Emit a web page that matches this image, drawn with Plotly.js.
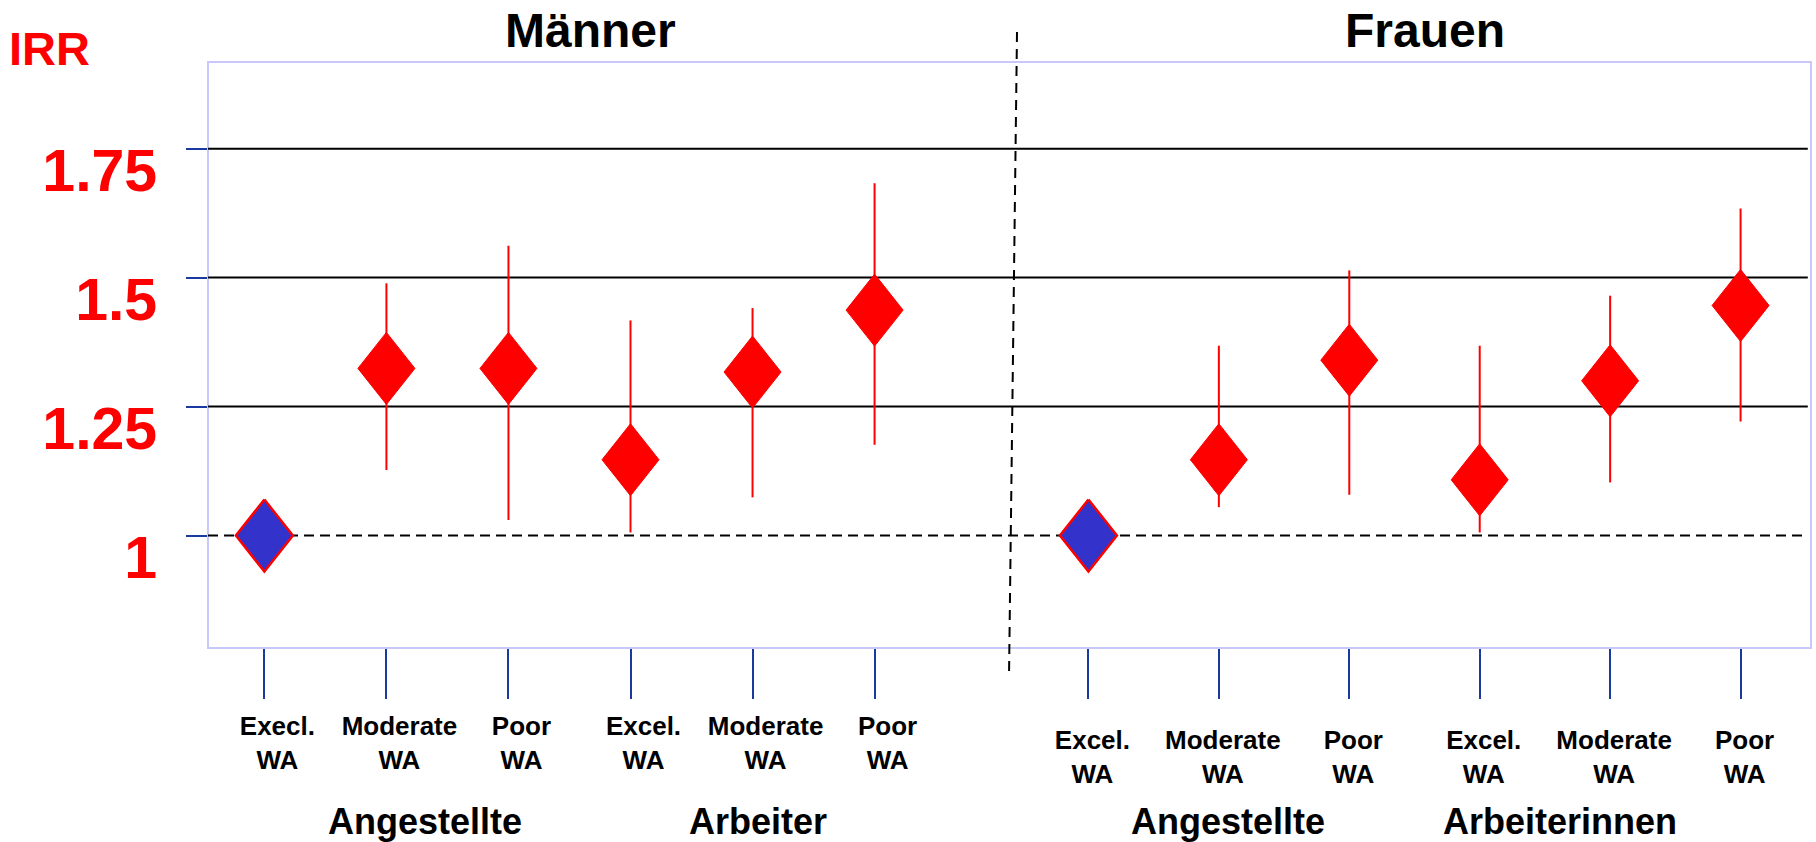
<!DOCTYPE html>
<html>
<head>
<meta charset="utf-8">
<script src="https://cdn.plot.ly/plotly-3.0.1.min.js"></script>
<style>html,body{margin:0;padding:0;background:#fff;}#chart{width:1816px;height:842px;}</style>
</head>
<body>
<div id="chart"></div>
<script>
// ---------- data ----------
const menCategories   = ['Execl.<br>WA', 'Moderate<br>WA', 'Poor<br>WA', 'Excel.<br>WA', 'Moderate<br>WA', 'Poor<br>WA'];
const womenCategories = ['Excel.<br>WA', 'Moderate<br>WA', 'Poor<br>WA', 'Excel.<br>WA', 'Moderate<br>WA', 'Poor<br>WA'];
const menGroups   = ['Angestellte', 'Arbeiter'];
const womenGroups = ['Angestellte', 'Arbeiterinnen'];
const panelTitles = ['Männer', 'Frauen'];

const menIRR     = [1.000, 1.324, 1.324, 1.147, 1.317, 1.437];
const menLower   = [null,  1.127, 1.030, 1.006, 1.074, 1.176];
const menUpper   = [null,  1.489, 1.562, 1.417, 1.441, 1.683];
const womenIRR   = [1.000, 1.147, 1.340, 1.108, 1.300, 1.446];
const womenLower = [null,  1.055, 1.079, 1.006, 1.103, 1.221];
const womenUpper = [null,  1.368, 1.514, 1.368, 1.465, 1.634];
const isReference = [true, false, false, false, false, false];

const yTickVals = [1, 1.25, 1.5, 1.75];
const yTickText = ['1', '1.25', '1.5', '1.75'];
const refValue = 1;

// ---------- layout geometry ----------
const W = 1816, H = 842;
const M = {l: 208, r: 5, t: 62, b: 194};
const plotW = W - M.l - M.r, plotH = H - M.t - M.b;
const px2paperX = px => (px - M.l) / plotW;
const px2paperY = py => (H - M.b - py) / plotH;
const split = px2paperX(1012);
const menRange = [-0.462, 6.126];
const womenRange = [-0.586, 5.540];
const yRange = [0.782, 1.918];

const FONT = 'Arial, "Liberation Sans", sans-serif';
const RED = '#ff0000';
const BLUE_TICK = '#1a3aa0';

function unitsPerPx(range, d0, d1) { return (range[1] - range[0]) / ((d1 - d0) * plotW); }
const yUnitsPerPx = (yRange[1] - yRange[0]) / plotH;
const halfWpx = 28.5, halfHpx = 36;

function diamonds(vals, mask, want, xUpp) {
  const xs = [], ys = [];
  const hw = halfWpx * xUpp, hh = halfHpx * yUnitsPerPx;
  vals.forEach((v, i) => {
    if (mask[i] !== want) return;
    xs.push(i, i + hw, i, i - hw, i, null);
    ys.push(v + hh, v, v - hh, v, v + hh, null);
  });
  return {xs, ys};
}

function panelTraces(vals, lo, hi, xa, xUpp) {
  const idx = vals.map((_, i) => i);
  const err = {
    x: idx, y: vals, xaxis: xa, yaxis: 'y', type: 'scatter', mode: 'markers',
    marker: {opacity: 0, size: 1}, hoverinfo: 'skip', showlegend: false,
    error_y: {
      type: 'data', symmetric: false,
      array: vals.map((v, i) => hi[i] == null ? 0 : hi[i] - v),
      arrayminus: vals.map((v, i) => lo[i] == null ? 0 : v - lo[i]),
      color: RED, thickness: 2, width: 0, visible: true
    }
  };
  const r = diamonds(vals, isReference, false, xUpp);
  const red = {
    x: r.xs, y: r.ys, xaxis: xa, yaxis: 'y', type: 'scatter', mode: 'lines',
    fill: 'toself', fillcolor: RED, line: {color: RED, width: 1},
    hoverinfo: 'skip', showlegend: false
  };
  const b = diamonds(vals, isReference, true, xUpp);
  const blue = {
    x: b.xs, y: b.ys, xaxis: xa, yaxis: 'y', type: 'scatter', mode: 'lines',
    fill: 'toself', fillcolor: '#3333cc', line: {color: RED, width: 2.5},
    hoverinfo: 'skip', showlegend: false
  };
  return [err, red, blue];
}

const traces = [].concat(
  panelTraces(menIRR, menLower, menUpper, 'x', unitsPerPx(menRange, 0, split)),
  panelTraces(womenIRR, womenLower, womenUpper, 'x2', unitsPerPx(womenRange, split, 1))
);

const xCommon = {
  tickmode: 'array', tickvals: [0, 1, 2, 3, 4, 5],
  ticks: 'outside', ticklen: 50, tickwidth: 2, tickcolor: BLUE_TICK,
  tickfont: {family: FONT, size: 26, color: '#000', weight: 'bold'},
  showgrid: false, zeroline: false, showline: false, fixedrange: true, anchor: 'y'
};

const shapes = [];
// plot frame
shapes.push({type: 'rect', xref: 'paper', yref: 'paper', x0: 0, x1: 1, y0: 0, y1: 1,
  line: {color: '#c8c8fa', width: 2}, layer: 'below'});
// horizontal reference lines from tick values
yTickVals.forEach(v => {
  shapes.push({type: 'line', xref: 'paper', yref: 'y', x0: 0, x1: 0.998, y0: v, y1: v,
    line: {color: '#000', width: 2, dash: v === refValue ? '10px,6px' : 'solid'}, layer: 'below'});
});
// panel separator
shapes.push({type: 'line', xref: 'paper', yref: 'paper',
  x0: px2paperX(1017), y0: px2paperY(32), x1: px2paperX(1009), y1: px2paperY(677),
  line: {color: '#000', width: 2, dash: '10px,7px'}});

const annotations = [];
const titleFont = {family: FONT, size: 48, color: '#000', weight: 'bold'};
annotations.push({text: panelTitles[0], xref: 'paper', yref: 'paper', x: px2paperX(590), y: px2paperY(31),
  showarrow: false, xanchor: 'center', yanchor: 'middle', font: titleFont});
annotations.push({text: panelTitles[1], xref: 'paper', yref: 'paper', x: px2paperX(1425), y: px2paperY(31),
  showarrow: false, xanchor: 'center', yanchor: 'middle', font: titleFont});
annotations.push({text: 'IRR', xref: 'paper', yref: 'paper', x: px2paperX(49), y: px2paperY(48),
  showarrow: false, xanchor: 'center', yanchor: 'middle',
  font: {family: FONT, size: 47, color: RED, weight: 'bold'}});
const groupFont = {family: FONT, size: 36, color: '#000', weight: 'bold'};
const groupCenters = [425, 758, 1228, 1560];
menGroups.concat(womenGroups).forEach((g, k) => {
  annotations.push({text: g, xref: 'paper', yref: 'paper', x: px2paperX(groupCenters[k]), y: px2paperY(821),
    showarrow: false, xanchor: 'center', yanchor: 'middle', font: groupFont});
});

const layout = {
  width: W, height: H, margin: M,
  paper_bgcolor: '#fff', plot_bgcolor: 'rgba(0,0,0,0)',
  showlegend: false,
  xaxis: Object.assign({}, xCommon, {domain: [0, split], range: menRange, ticktext: menCategories,
    ticklabelstandoff: 5, ticklabelshift: 13}),
  xaxis2: Object.assign({}, xCommon, {domain: [split, 1], range: womenRange, ticktext: womenCategories,
    ticklabelstandoff: 19, ticklabelshift: 4}),
  yaxis: {
    range: yRange, tickmode: 'array', tickvals: yTickVals, ticktext: yTickText,
    ticks: 'outside', ticklen: 21, tickwidth: 2, tickcolor: BLUE_TICK,
    tickfont: {family: FONT, size: 59, color: RED, weight: 'bold'},
    ticklabelstandoff: 17, ticklabelshift: 22,
    showgrid: false, zeroline: false, showline: false, fixedrange: true, anchor: 'x'
  },
  shapes: shapes,
  annotations: annotations
};

Plotly.newPlot('chart', traces, layout, {staticPlot: true, displayModeBar: false});
</script>
</body>
</html>
